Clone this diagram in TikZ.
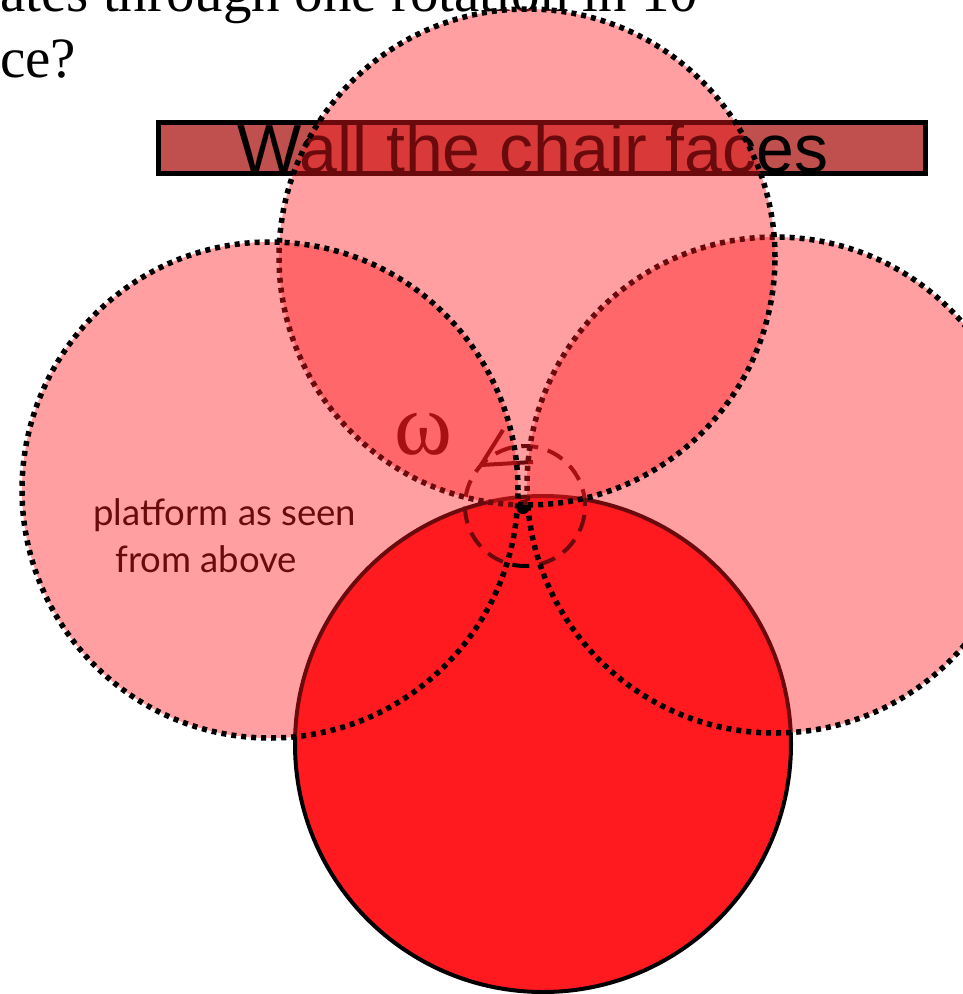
\documentclass[tikz,border=0pt]{standalone}
\usepackage{fontspec}
\setmainfont{Liberation Serif}
\newfontfamily\arialf{Liberation Sans}
\newfontfamily\gillf{Lato}
\definecolor{redc}{RGB}{255,26,31}
\definecolor{wallc}{RGB}{192,80,77}
\begin{document}
\begin{tikzpicture}[x=1pt,y=-1pt,
  pinkc/.style={fill=redc, fill opacity=0.42, draw=black, line width=5.5pt, dash pattern=on 5pt off 5pt},
  solidc/.style={fill=redc, draw=black, line width=4pt},
  slidetext/.style={inner sep=0pt, anchor=base west, font=\fontsize{57}{60}\selectfont},
  walltext/.style={inner sep=0pt, anchor=base, font=\arialf\fontsize{68}{70}\selectfont},
  labeltext/.style={inner sep=0pt, anchor=base west, font=\gillf\fontsize{36.5}{40}\selectfont}]
\useasboundingbox (0,0) rectangle (962,994);
% slide text
\node[slidetext] (line1) at (0,11) {ates through one rotation in 10};
\node[slidetext] (line2) at (0,77) {ce?};
% wall
\draw[fill=wallc, draw=black, line width=5pt] (158,122) rectangle (925.5,173);
\node[walltext] (wall) at (533,172) {Wall the chair faces};
% bottom solid circle
\draw[solidc] (543,744) circle[radius=248pt];
% texts and rotation marks
\node[inner sep=0pt, anchor=base, font=\fontsize{88}{90}\selectfont] (omega) at (423,454) {ω};
\node[labeltext] (plat1) at (93,525) {platform as seen};
\node[labeltext] (plat2) at (115,572) {from above};
\draw[black, line width=4pt, dash pattern=on 17pt off 10pt] (525,506) circle[radius=60pt];
\draw[black, line width=4pt] (503,430) -- (481,465) -- (533,462);
\fill[black] (523,507) circle[radius=7pt];
% transparent platform positions
\draw[pinkc] (775,485) circle[radius=248pt];
\draw[pinkc] (527,257) circle[radius=248pt];
\draw[pinkc] (270,490) circle[radius=248pt];
\end{tikzpicture}
\end{document}
